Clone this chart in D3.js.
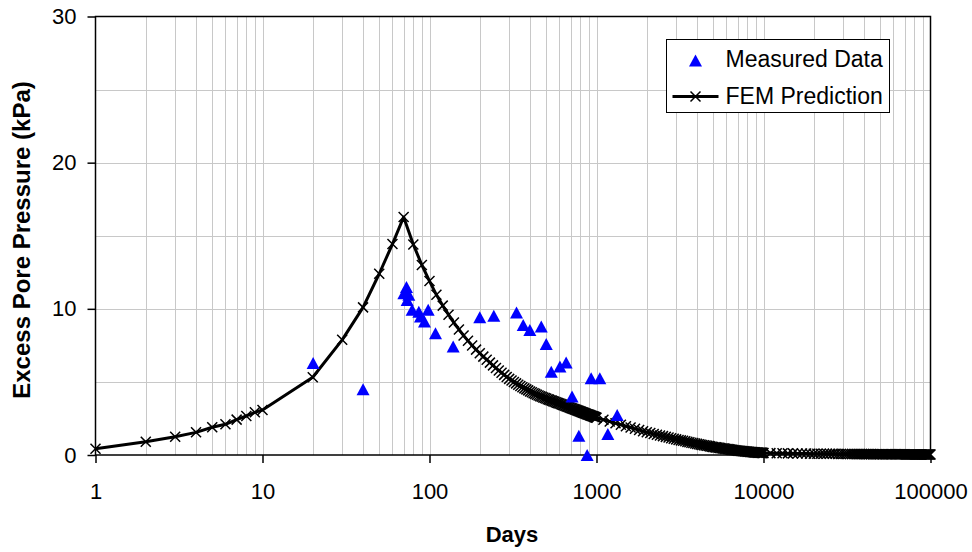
<!DOCTYPE html>
<html><head><meta charset="utf-8">
<script src="https://cdn.jsdelivr.net/npm/d3@7"></script>
<style>
body{margin:0;background:#fff}
svg{display:block;font-family:"Liberation Sans",Arial,sans-serif}
</style>
</head><body>
<svg id="chart" width="972" height="552"></svg>
<script>
// ---------- DATA ----------
const xTickLabels = [1, 10, 100, 1000, 10000, 100000];
const yTickLabels = [0, 10, 20, 30];
const yGridValues = [5, 10, 15, 20, 25];

// Measured data (days, kPa)
const measuredDays = [20.1, 40, 70.2, 72.8, 73.5, 75.2, 78.7, 86.3, 88.3, 93.3, 98.2, 108.6, 138.6, 200, 242.7, 332, 364, 399, 467, 500, 536, 604, 658, 714, 784, 879, 929, 1047, 1169, 1330];
const measuredKPa  = [6.3, 4.5, 11.07, 11.5, 10.6, 10.96, 9.93, 9.8, 9.47, 9.13, 9.93, 8.33, 7.42, 9.43, 9.52, 9.75, 8.9, 8.56, 8.79, 7.6, 5.7, 6.05, 6.32, 4.0, 1.32, 0.0, 5.25, 5.25, 1.44, 2.74];

// FEM prediction: loading phase
const riseDays = [1, 2, 3, 4, 5, 6, 7, 8, 9, 10, 20, 30, 40, 50, 60, 70];
const riseKPa  = [0.43, 0.91, 1.25, 1.55, 1.9, 2.1, 2.42, 2.67, 2.92, 3.08, 5.32, 7.88, 10.1, 12.4, 14.43, 16.28];

// FEM prediction: dissipation, 10-day output steps
const decayDaysA = [80,90,100,110,120,130,140,150,160,170,180,190,200,210,220,230,240,250,260,270,280,290,300,310,320,330,340,350,360,370,380,390,400,410,420,430,440,450,460,470,480,490,500,510,520,530,540,550,560,570,580,590,600,610,620,630,640,650,660,670,680,690,700,710,720,730,740,750,760,770,780,790,800,810,820,830,840,850,860,870,880,890,900,910,920,930,940,950,960,970,980,990,1000];
const decayKPaA  = [14.40,13.00,11.90,10.96,10.22,9.60,9.06,8.59,8.17,7.81,7.49,7.21,6.96,6.73,6.52,6.32,6.13,5.95,5.78,5.63,5.48,5.34,5.21,5.10,5.00,4.90,4.81,4.72,4.64,4.56,4.49,4.42,4.35,4.29,4.23,4.18,4.12,4.07,4.02,3.98,3.94,3.90,3.86,3.82,3.79,3.75,3.72,3.68,3.65,3.61,3.58,3.55,3.52,3.49,3.45,3.42,3.40,3.37,3.34,3.31,3.28,3.25,3.22,3.20,3.17,3.15,3.12,3.09,3.07,3.04,3.02,3.00,2.97,2.95,2.93,2.90,2.88,2.86,2.84,2.81,2.79,2.77,2.75,2.73,2.71,2.69,2.67,2.65,2.63,2.61,2.59,2.57,2.55];

// FEM prediction: dissipation, 100-day output steps
const decayDaysB = [1100,1200,1300,1400,1500,1600,1700,1800,1900,2000,2100,2200,2300,2400,2500,2600,2700,2800,2900,3000,3100,3200,3300,3400,3500,3600,3700,3800,3900,4000,4100,4200,4300,4400,4500,4600,4700,4800,4900,5000,5100,5200,5300,5400,5500,5600,5700,5800,5900,6000,6100,6200,6300,6400,6500,6600,6700,6800,6900,7000,7100,7200,7300,7400,7500,7600,7700,7800,7900,8000,8100,8200,8300,8400,8500,8600,8700,8800,8900,9000,9100,9200,9300,9400,9500,9600,9700,9800,9900,10000];
const decayKPaB  = [2.41,2.29,2.17,2.07,1.97,1.88,1.79,1.71,1.63,1.56,1.50,1.44,1.39,1.34,1.29,1.24,1.20,1.15,1.11,1.07,1.03,1.00,0.97,0.94,0.90,0.87,0.84,0.82,0.79,0.76,0.74,0.71,0.69,0.67,0.65,0.63,0.61,0.59,0.57,0.55,0.53,0.52,0.51,0.49,0.48,0.46,0.45,0.44,0.42,0.41,0.40,0.39,0.38,0.36,0.35,0.34,0.33,0.32,0.31,0.30,0.29,0.29,0.28,0.27,0.26,0.26,0.25,0.24,0.24,0.23,0.22,0.22,0.21,0.21,0.20,0.19,0.19,0.18,0.18,0.17,0.167,0.164,0.161,0.158,0.155,0.152,0.149,0.146,0.143,0.14];

// FEM prediction: long-term tail, 1000-day output steps
const tailDays = [11000,12000,13000,14000,15000,16000,17000,18000,19000,20000,21000,22000,23000,24000,25000,26000,27000,28000,29000,30000,31000,32000,33000,34000,35000,36000,37000,38000,39000,40000,41000,42000,43000,44000,45000,46000,47000,48000,49000,50000,51000,52000,53000,54000,55000,56000,57000,58000,59000,60000,61000,62000,63000,64000,65000,66000,67000,68000,69000,70000,71000,72000,73000,74000,75000,76000,77000,78000,79000,80000,81000,82000,83000,84000,85000,86000,87000,88000,89000,90000,91000,92000,93000,94000,95000,96000,97000,98000,99000,100000];
const tailKPa  = [0.13,0.12,0.12,0.11,0.11,0.10,0.10,0.10,0.09,0.09,0.09,0.09,0.08,0.08,0.08,0.08,0.08,0.07,0.07,0.07,0.07,0.07,0.07,0.07,0.07,0.06,0.06,0.06,0.06,0.06,0.06,0.06,0.06,0.06,0.06,0.05,0.05,0.05,0.05,0.05,0.05,0.05,0.05,0.05,0.05,0.05,0.05,0.05,0.05,0.05,0.05,0.05,0.05,0.05,0.05,0.05,0.05,0.05,0.05,0.05,0.04,0.04,0.04,0.04,0.04,0.04,0.04,0.04,0.04,0.04,0.04,0.04,0.04,0.04,0.04,0.04,0.04,0.04,0.04,0.04,0.04,0.04,0.04,0.04,0.04,0.04,0.04,0.04,0.04,0.04];

const legendLabels = ["Measured Data", "FEM Prediction"];

// ---------- BUILD ----------
const femDays = [...riseDays, ...decayDaysA, ...decayDaysB, ...tailDays];
const femKPa = [...riseKPa, ...decayKPaA, ...decayKPaB, ...tailKPa];
const fem = femDays.map((d, i) => ({d, v: femKPa[i]}));
const measured = measuredDays.map((d, i) => ({d, v: measuredKPa[i]}));

const L = 95.5, R = 930.5, T = 16.5, B = 455;
const x = d3.scaleLog().domain([1, 100000]).range([L, R]);
const y = d3.scaleLinear().domain([0, 30]).range([B, T]);

const svg = d3.select("#chart");
svg.append("rect").attr("width", 972).attr("height", 552).attr("fill", "#fff");

// grid
const g = svg.append("g");
g.selectAll("line.vx").data(x.ticks().filter(d => d > 1 && d < 100000)).join("line")
  .attr("x1", d => Math.round(x(d)) + 0.5).attr("x2", d => Math.round(x(d)) + 0.5)
  .attr("y1", T).attr("y2", B).attr("stroke", "#c8c8c8").attr("stroke-width", 1);
g.selectAll("line.hy").data(yGridValues).join("line")
  .attr("x1", L).attr("x2", R)
  .attr("y1", d => Math.round(y(d)) + 0.5).attr("y2", d => Math.round(y(d)) + 0.5)
  .attr("stroke", "#c8c8c8").attr("stroke-width", 1);

// frame
svg.append("rect").attr("x", L).attr("y", T).attr("width", R - L).attr("height", B - T)
  .attr("fill", "none").attr("stroke", "#000").attr("stroke-width", 1.5);

// axes
const xAxis = d3.axisBottom(x).tickValues(xTickLabels).tickFormat(d3.format("d"))
  .tickSize(8).tickPadding(20);
const ax = svg.append("g").attr("transform", `translate(0,${B})`).call(xAxis);
const yAxis = d3.axisLeft(y).tickValues(yTickLabels).tickSize(8).tickPadding(11);
const ay = svg.append("g").attr("transform", `translate(${L},0)`).call(yAxis);
[ax, ay].forEach(a => {
  a.select(".domain").remove();
  a.selectAll(".tick line").attr("stroke", "#000").attr("stroke-width", 1.5);
  a.selectAll(".tick text").attr("fill", "#000").attr("font-size", 22)
    .attr("font-family", '"Liberation Sans",Arial,sans-serif');
});

// FEM line
const line = d3.line().x(d => x(d.d)).y(d => y(d.v));
svg.append("path").datum(fem).attr("d", line).attr("fill", "none")
  .attr("stroke", "#000").attr("stroke-width", 3).attr("stroke-linejoin", "round");

// FEM markers (x)
const s = 5;
const xMark = `M${-s},${-s}L${s},${s}M${-s},${s}L${s},${-s}`;
svg.append("g").selectAll("path").data(fem).join("path")
  .attr("transform", d => `translate(${x(d.d)},${y(d.v)})`)
  .attr("d", xMark).attr("stroke", "#000").attr("stroke-width", 1.5).attr("fill", "none");

// measured triangles
const tri = "M0,-6L6.5,6L-6.5,6Z";
svg.append("g").selectAll("path").data(measured).join("path")
  .attr("transform", d => `translate(${x(d.d)},${y(d.v)})`)
  .attr("d", tri).attr("fill", "#0000ff");

// axis titles
svg.append("text").attr("x", 512).attr("y", 541.5).attr("text-anchor", "middle")
  .attr("font-size", 22).attr("font-weight", "bold").text("Days");
svg.append("text").attr("transform", "translate(30,240) rotate(-90)").attr("text-anchor", "middle")
  .attr("font-size", 24).attr("font-weight", "bold").text("Excess Pore Pressure (kPa)");

// legend
const lg = svg.append("g");
lg.append("rect").attr("x", 666.5).attr("y", 39.5).attr("width", 223).attr("height", 73)
  .attr("fill", "#fff").attr("stroke", "#000").attr("stroke-width", 1);
lg.append("path").attr("transform", "translate(695.5,60.5)").attr("d", tri).attr("fill", "#0000ff");
lg.append("text").attr("x", 725.5).attr("y", 66.5).attr("font-size", 23).text(legendLabels[0]);
lg.append("line").attr("x1", 672.5).attr("x2", 718.5).attr("y1", 96.5).attr("y2", 96.5)
  .attr("stroke", "#000").attr("stroke-width", 3);
lg.append("path").attr("transform", "translate(695.5,96.5)").attr("d", xMark)
  .attr("stroke", "#000").attr("stroke-width", 1.5);
lg.append("text").attr("x", 725.5).attr("y", 104).attr("font-size", 23).text(legendLabels[1]);
</script>
</body></html>
